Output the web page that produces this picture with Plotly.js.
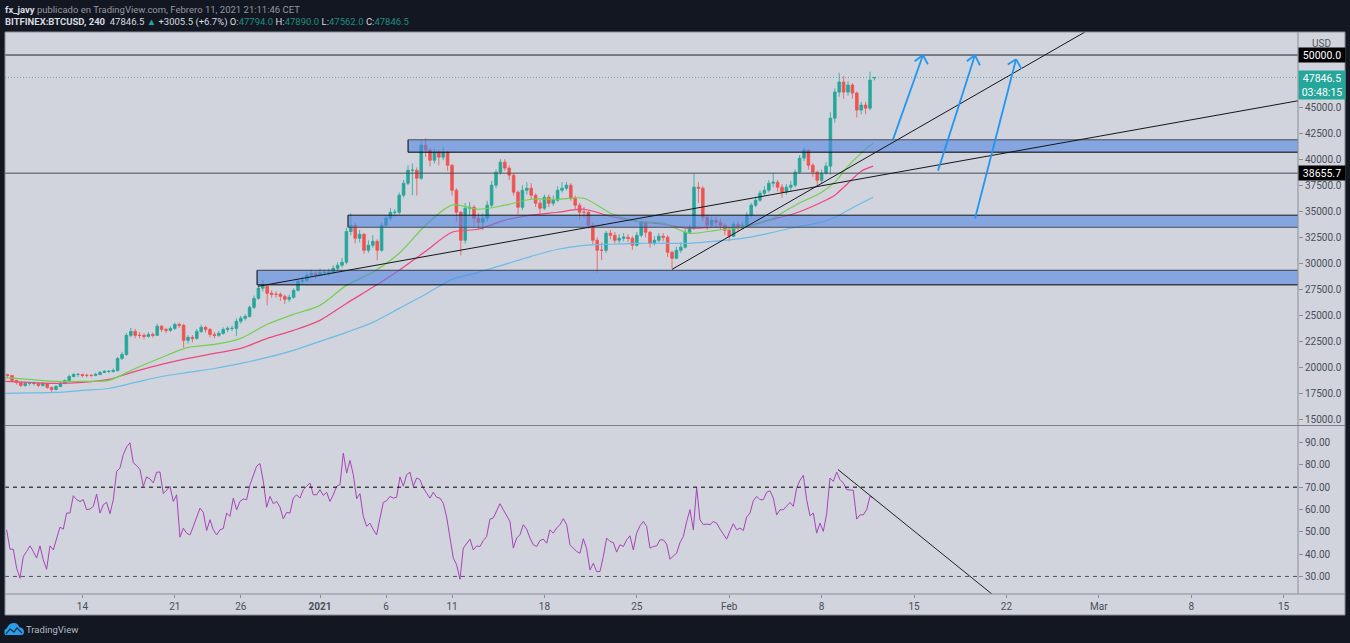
<!DOCTYPE html>
<html><head><meta charset="utf-8">
<script src="https://cdn.plot.ly/plotly-3.0.1.min.js"></script>
<style>html,body{margin:0;padding:0;background:#131722;overflow:hidden}#c{width:1350px;height:643px}</style>
</head><body><div id="c"></div>
<script>
// BTCUSD bars (8h sampled), first bar Dec 8 2020 08:00
const opens=[19300,19230,18750,18560,18270,18460,18460,18460,18270,18460,
18080,17880,18170,18460,18750,19130,19330,19330,19230,19230,
19230,19330,19520,19620,19620,19700,20860,21250,23080,23460,
23080,23080,22980,23170,23080,23950,23650,23560,23750,24130,
24040,22600,22890,22790,23460,23850,23650,23170,23080,23270,
23650,23750,23750,24430,24720,24900,25770,26630,27600,27790,
27120,27020,27020,26830,26540,26730,27400,28270,28370,28850,
29040,28850,29130,29130,29130,29520,29810,30100,33050,33650,
32400,32790,31250,31730,32110,31250,33650,34330,34900,34900,
36540,37690,38940,38940,38170,41350,40870,39900,40670,40190,
40670,39420,37020,34900,32210,35290,35380,34330,33940,34330,
35580,37500,38750,39710,39140,38460,36830,35380,37020,37210,
36540,35770,35290,36350,35770,36060,37020,37210,37500,36250,
35580,34900,34900,33650,32210,31250,31250,32890,32690,32210,
32400,32500,32400,31730,32690,33940,32980,31920,32210,32600,
32500,31060,30480,31250,31540,32980,33370,37310,37210,34420,
33650,34140,33940,33650,33170,32600,33750,33370,33650,34620,
35580,36060,36730,37020,37690,37790,37310,36830,37310,37500,
38750,40100,40870,39420,38750,37980,38660,39330,43940,46440,
47400,46440,47120,46350,44710,45190,44900,47794];
const highs=[19400,19250,18800,18600,18650,18600,18650,18500,18600,18500,
18150,18300,18600,18850,19300,19450,19450,19400,19400,19350,
19500,19650,19750,19750,19900,21000,21500,23300,23800,23700,
23400,23300,23400,23350,24200,24100,23800,23950,24300,24300,
24200,23100,23100,23700,24100,24000,23800,23400,23500,23850,
23950,24000,24700,24950,25100,25950,26900,27900,28400,27900,
27400,27300,27200,27000,27000,27600,28500,28700,29100,29400,
29200,29500,29400,29500,29800,30100,30500,33400,34800,33900,
33200,32900,32200,32700,32300,33900,34600,35300,35200,36800,
38000,39400,39600,39200,41800,42000,41100,41000,40900,41200,
40800,39500,37200,35000,35800,35900,35600,34800,34800,36000,
37900,39000,40000,40000,39400,38600,37000,37500,37800,37700,
36700,36100,36600,36600,36500,37400,37800,37800,37700,36500,
35800,35400,35100,33900,32500,32000,33100,33200,33000,32800,
32900,32800,32600,33000,34200,34100,33100,32600,32900,32900,
32700,31200,31600,32000,33300,33700,38650,37800,37400,34700,
34500,34500,34300,33900,33400,34000,34000,34000,34900,35800,
36400,37000,37400,38000,38700,38000,37600,37600,37900,39000,
40400,41100,40900,39600,38900,39000,39700,44500,46800,48300,
48000,47500,47300,46500,45500,45500,48400,47890];
const lows=[18950,18600,18350,18100,18150,18250,18250,18100,18150,17950,
17600,17800,18100,18400,18700,19050,19100,19050,19050,19050,
19150,19250,19450,19450,19500,19600,20700,21100,22900,22800,
22800,22700,22850,22850,23000,23400,23300,23400,23600,23800,
21900,22300,22400,22650,23300,23350,22900,22800,22900,23150,
23400,23500,23000,24200,24500,24800,25600,26500,27300,25960,
26700,26700,26400,26100,26300,26600,27300,28000,28200,28700,
28500,28700,28800,28800,29000,29300,29600,29900,32700,31900,
32000,30900,31000,31500,30290,31100,33400,34100,34500,34700,
36300,37500,36540,36500,38000,40200,39300,39600,39400,39900,
38900,36500,34000,30770,31900,34500,33600,33300,33200,34000,
35400,37200,38500,38900,38000,36500,34700,35100,36600,36200,
35400,34800,35100,35400,35500,35900,36800,37000,36000,35200,
34200,34400,33300,31800,29100,30300,31000,32300,31900,31900,
32100,32000,31300,31600,32500,32500,31500,31700,32000,32100,
30600,29500,30400,31000,31400,32800,33200,35800,34000,33200,
33400,33500,33200,32700,32100,32500,33000,33300,33500,34400,
35400,35900,36500,36800,37300,36900,36300,36600,36900,37300,
38600,39800,39000,38300,37400,37700,38500,38500,43500,46000,
45800,46100,45800,44000,44300,44300,44700,47562];
const closes=[19230,18750,18560,18270,18460,18460,18460,18270,18460,18080,
17880,18170,18460,18750,19130,19330,19330,19230,19230,19230,
19330,19520,19620,19620,19700,20860,21250,23080,23460,23080,
23080,22980,23170,23080,23950,23650,23560,23750,24130,24040,
22600,22890,22790,23460,23850,23650,23170,23080,23270,23650,
23750,23750,24430,24720,24900,25770,26630,27600,27790,27120,
27020,27020,26830,26540,26730,27400,28270,28370,28850,29040,
28850,29130,29130,29130,29520,29810,30100,33050,33650,32400,
32790,31250,31730,32110,31250,33650,34330,34900,34900,36540,
37690,38940,38940,38170,41350,40870,39900,40670,40190,40670,
39420,37020,34900,32210,35290,35380,34330,33940,34330,35580,
37500,38750,39710,39140,38460,36830,35380,37020,37210,36540,
35770,35290,36350,35770,36060,37020,37210,37500,36250,35580,
34900,34900,33650,32210,31250,31250,32890,32690,32210,32400,
32500,32400,31730,32690,33940,32980,31920,32210,32600,32500,
31060,30480,31250,31540,32980,33370,37310,37210,34420,33650,
34140,33940,33650,33170,32600,33750,33370,33650,34620,35580,
36060,36730,37020,37690,37790,37310,36830,37310,37500,38750,
40100,40870,39420,38750,37980,38660,39330,43940,46440,47400,
46440,47120,46350,44710,45190,44900,47600,47846.5];

// Moving averages, days counted from 2021-01-01
const maDays=[-24,-22,-20,-18,-16,-14,-12,-10,-8,-6,-4,-2,0,2,4,6,8,10,12,14,16,18,20,22,24,26,28,30,32,34,36,38,39,40,41,41.9];
const maGreen=[19040,18850,18660,18660,18750,19900,20960,21920,22210,22790,24140,25100,25960,27880,29130,30960,33650,35580,35190,35580,36150,36150,36250,34810,34040,33850,32880,33170,33460,34130,35580,36830,37790,39330,40580,41540];
const maPink=[18660,18560,18460,18560,18850,19620,20290,20870,21350,21830,22790,23560,24520,26150,27690,29330,31150,32980,33270,34140,34620,34900,35190,34520,34040,33750,33370,33460,33460,34140,34810,35870,36540,37690,38850,39330];
const maBlue=[17500,17550,17600,17790,17980,18560,19130,19520,19900,20390,20960,21640,22500,23370,24330,25670,27020,28460,29130,29900,30670,31350,31730,31830,31920,31920,31920,32120,32400,32880,33460,33940,34420,35100,35770,36350];

// RSI (about 6h apart)
const rsiValues=[50.9,42.2,42.2,33.7,29.2,38.9,41.2,43.7,41.2,38.2,43.7,37.4,33.2,43.7,41.9,47.1,52.1,51.2,58.4,58.4,66.2,64.4,63.6,64.4,59.9,60.2,61.4,66.9,58.4,62.1,63.2,58.1,64.4,77.1,78.6,84.6,88.1,89.9,80.9,79.7,77.9,70.4,74.6,73.7,71.9,76.7,76.8,67.1,68.9,70.4,63.6,66.6,47.6,51.6,49.4,48.6,52.4,56.6,60.6,58.7,50.6,55.4,50.9,48.6,50.9,51.5,58.4,56.9,65.1,59.9,63.6,64.7,64.4,71.1,75.6,79.4,80.6,72.6,61,65.9,62.6,63.6,61.1,55.8,58.7,58.4,65.1,66.6,65.1,68.9,70.4,71.9,66.6,66.6,68.9,66.3,67.7,63.6,66.6,70.4,71.1,85.3,76.3,82,75.6,64.8,67.1,56.9,52.4,53.9,50.9,48.6,56.1,63.2,63.9,65.9,65.1,65.5,74.6,70.4,75.6,76.7,70.4,74.1,73.4,69.6,67.3,65.1,67.7,65.5,65.1,62.8,
56.6,46.7,38.2,35.2,28.7,42.7,44.9,46.7,41.9,43.7,43.4,46.1,47.9,55.7,56.2,59.1,62.6,59.9,57.2,54.6,42.7,47.2,48.7,53.2,51.2,47.2,44.2,43.4,46.1,46.7,44.9,50.9,49.4,51.7,53.2,55.9,53.2,44.2,42.7,41.2,40.4,46.9,42.4,32.9,35.9,32.2,32.2,38.9,47.2,45.7,45.2,40.9,44.2,43.4,46.4,48.2,41.9,49.4,52.7,54.6,52.4,42.7,43.4,43.7,46.4,46.4,44.5,37.7,39.2,40.4,45.2,47.9,54.6,59.9,50.9,69.9,55.4,53.2,53.5,53.2,54.6,53.9,51.2,48.7,46.7,50.4,53.6,50.9,51.7,50.6,56.6,58.4,63.9,65.9,64.4,64.4,67.7,68.4,65.1,57.6,59.9,59.9,61.7,63.2,61.4,69.6,73.1,75.3,64.4,57.2,58.4,49.4,53.9,50.2,58.1,74.1,72.6,76.8,73.4,71.9,68.9,68.6,68.6,55.7,57.6,57.6,59.9,65.9,65.1];

// Axis ticks
const xTickDays=[-18,-11,-6,0,5,10,17,24,31,38,45,52,59,66,73];
const xTickLabels=['14','21','26','<b>2021</b>','6','11','18','25','Feb','8','15','22','Mar','8','15'];
const priceTicks=[15000,17500,20000,22500,25000,27500,30000,32500,35000,37500,40000,42500,45000];
const rsiTicks=[30,40,50,60,70,80,90];

// Drawn levels, zones, trend lines, arrows
const level50k=50000, levelSupport=38655.7, lastPrice=47846.5;
const zoneDays=[6.67,2.12,-4.77];
const zoneTop=[41860,34620,29330];
const zoneBottom=[40670,33460,27930];
const zoneTopColor=['#4a4d55','#15161a','#3a3c44'];
const zoneBottomColor=['#000','#4a4d55','#000'];
const trendA=[[-4.7,27790],[74.09,45606]];
const trendB=[[26.67,29420],[57.95,52210]];
const rsiTrend=[[39.24,77.9],[50.9,22.13]];
const arrows=[
 {from:[43.41,41900],tip:[45.68,50000],l:[45.05,49400],r:[46.05,49100]},
 {from:[46.82,38900],tip:[49.62,50000],l:[49.0,49400],r:[50.0,49000]},
 {from:[49.62,34300],tip:[52.73,49600],l:[52.1,49100],r:[53.15,48650]}
];

const LIGHT='#d1d4dc',DARK='#131722',UP='#26a69a',DOWN='#ef5350',FONT='Roboto, "Open Sans", sans-serif';
const dayToDate=d=>new Date(Date.UTC(2021,0,1)+d*864e5).toISOString();
const px=x=>(x-5)/1340, py=y=>(615-y)/583;
const barDates=closes.map((_,i)=>dayToDate(-23.6667+i/3));
const rsiDates=rsiValues.map((_,i)=>dayToDate(-23.74+i*0.25253));
const maDates=maDays.map(dayToDate);

const ma=(y,c)=>({type:'scatter',mode:'lines',x:maDates,y:y,xaxis:'x',yaxis:'y',line:{color:c,width:1.2,shape:'spline',smoothing:0.8},hoverinfo:'skip'});
const traces=[
 {type:'candlestick',x:barDates,open:opens,high:highs,low:lows,close:closes,xaxis:'x',yaxis:'y',
  increasing:{line:{color:UP,width:0.8},fillcolor:UP},decreasing:{line:{color:DOWN,width:0.8},fillcolor:DOWN},whiskerwidth:0,hoverinfo:'skip'},
 ma(maBlue,'#6cbbe8'),ma(maPink,'#f0467f'),ma(maGreen,'#74cf4c'),
 {type:'scatter',mode:'lines',x:rsiDates,y:rsiValues,xaxis:'x',yaxis:'y2',line:{color:'#a843ba',width:1},hoverinfo:'skip'}
];

const line=(a,b,c,w,yr,dash)=>({type:'line',xref:'x',yref:yr||'y',x0:dayToDate(a[0]),y0:a[1],x1:dayToDate(b[0]),y1:b[1],line:{color:c,width:w,dash:dash||'solid'}});
const hl=(v,c,yr,dash)=>line([-23.864,v],[74.09,v],c,1,yr,dash);
const pline=(x0,y0,x1,y1,c)=>({type:'line',xref:'paper',yref:'paper',x0:px(x0),y0:py(y0),x1:px(x1),y1:py(y1),line:{color:c,width:1}});
const pp=(s)=>s.replace(/(-?[\d.]+),(-?[\d.]+)/g,(m,a,b)=>px(+a)+','+py(+b));

const shapes=[
 hl(lastPrice,'rgba(38,166,154,0.65)','y','1px,2px'),
 hl(level50k,'#23252b'),
 hl(levelSupport,'#4a4d55'),
];
zoneDays.forEach((d,i)=>{
 shapes.push({type:'rect',xref:'x',yref:'y',x0:dayToDate(d),x1:dayToDate(76),y0:zoneBottom[i],y1:zoneTop[i],fillcolor:'rgba(82,134,227,0.6)',line:{width:0}});
 shapes.push(line([d,zoneBottom[i]],[d,zoneTop[i]],'#000',1));
 shapes.push(line([d,zoneTop[i]],[76,zoneTop[i]],zoneTopColor[i],1));
 shapes.push(line([d,zoneBottom[i]],[76,zoneBottom[i]],zoneBottomColor[i],1));
});
shapes.push(line(trendA[0],trendA[1],'#15161a',1),line(trendB[0],trendB[1],'#15161a',1));
arrows.forEach(a=>shapes.push(line(a.from,a.tip,'#2196f3',1.8),line(a.l,a.tip,'#2196f3',1.8),line(a.tip,a.r,'#2196f3',1.8)));
shapes.push(hl(70,'#000','y2','4px,4px'),hl(30,'#555','y2','4px,4px'));
shapes.push(line(rsiTrend[0],rsiTrend[1],'#222',1,'y2'));
shapes.push(
 pline(5,32,1345,32,'#8a8d94'),pline(5,615,1345,615,'#8a8d94'),pline(5,32,5,615,'#8a8d94'),pline(1345,32,1345,615,'#8a8d94'),
 pline(1298,32,1298,594,'#8a8d94'),pline(5,425.5,1345,425.5,'#7c7f86'),pline(5,594,1345,594,'#8a8d94')
);
// TradingView logo
shapes.push({type:'path',xref:'paper',yref:'paper',path:pp('M 5,635 Q 3,630 7,628 Q 9,623 14,623 Q 18,623 19,627 Q 24,628 24,632 Q 24,635 21,635 Z'),fillcolor:'#2a9fe8',line:{width:0}});
shapes.push({type:'path',xref:'paper',yref:'paper',path:pp('M 6,634 L 10,629 L 14,632 L 17,628 L 22,633'),line:{color:'#0f2a44',width:1.2}});

const lbl=(text,y,bg)=>({xref:'paper',yref:'paper',x:px(1321.5),y:py(y),xanchor:'center',yanchor:'middle',text:text,showarrow:false,width:46,height:14,borderpad:0,bgcolor:bg,font:{family:FONT,size:10.5,color:'#fff'}});
const G='#9598a1',W='#d8dae0',T='#1f8e83';
const annotations=[
 {xref:'paper',yref:'paper',x:px(3),y:py(9),xanchor:'left',yanchor:'middle',showarrow:false,align:'left',font:{family:FONT,size:9.5,color:G},
  text:'<b><span style="color:'+W+'">fx_javy</span></b> publicado en TradingView.com, Febrero 11, 2021 21:11:46 CET'},
 {xref:'paper',yref:'paper',x:px(3),y:py(21.5),xanchor:'left',yanchor:'middle',showarrow:false,align:'left',font:{family:FONT,size:9.5,color:W},
  text:'<b>BITFINEX:BTCUSD, 240</b>  47846.5 <span style="color:'+UP+'">▲</span> +3005.5 (+6.7%) O:<span style="color:'+T+'">47794.0</span> H:<span style="color:'+T+'">47890.0</span> L:<span style="color:'+T+'">47562.0</span> C:<span style="color:'+T+'">47846.5</span>'},
 {xref:'paper',yref:'paper',x:px(1321.5),y:py(43),xanchor:'center',yanchor:'middle',text:'USD',showarrow:false,font:{family:FONT,size:10,color:'#50535e'}},
 lbl('50000.0',55.5,'#000'),lbl('47846.5',78,UP),lbl('03:48:15',92.5,UP),lbl('38655.7',173,'#000'),
 {xref:'paper',yref:'paper',x:px(23.5),y:py(629.5),xanchor:'left',yanchor:'middle',text:'TradingView',showarrow:false,font:{family:FONT,size:9.5,color:'#b6b9c2'}}
];

const tf={family:FONT,size:10,color:'#4a4e59'};
const layout={
 width:1350,height:643,margin:{l:5,r:5,t:32,b:28,pad:0},
 paper_bgcolor:DARK,plot_bgcolor:LIGHT,showlegend:false,boxgap:0.4,boxgroupgap:0,dragmode:false,
 xaxis:{type:'date',domain:[0,1293/1340],range:[dayToDate(-23.864),dayToDate(74.09)],anchor:'y2',rangeslider:{visible:false},
  tickmode:'array',tickvals:xTickDays.map(dayToDate),ticktext:xTickLabels,ticks:'outside',ticklen:3,tickcolor:'#8a8d94',tickfont:tf,showgrid:false,zeroline:false,showline:false,tickangle:0},
 yaxis:{domain:[py(425.5),1],range:[14424,52211],side:'right',anchor:'x',tickmode:'array',tickvals:priceTicks,ticktext:priceTicks.map(v=>v.toFixed(1)),ticks:'outside',ticklen:4,tickcolor:'#8a8d94',tickfont:tf,showgrid:false,zeroline:false,showline:false},
 yaxis2:{domain:[py(594),py(425.5)],range:[22.13,97.64],side:'right',anchor:'x',tickmode:'array',tickvals:rsiTicks,ticktext:rsiTicks.map(v=>v.toFixed(2)),ticks:'outside',ticklen:4,tickcolor:'#8a8d94',tickfont:tf,showgrid:false,zeroline:false,showline:false},
 shapes:shapes,annotations:annotations
};
// light panel behind the axes
layout.shapes.unshift({type:'rect',layer:'below',xref:'paper',yref:'paper',x0:0,x1:1,y0:0,y1:1,fillcolor:LIGHT,line:{width:0}});
Plotly.newPlot('c',traces,layout,{staticPlot:true,displayModeBar:false});
</script></body></html>
